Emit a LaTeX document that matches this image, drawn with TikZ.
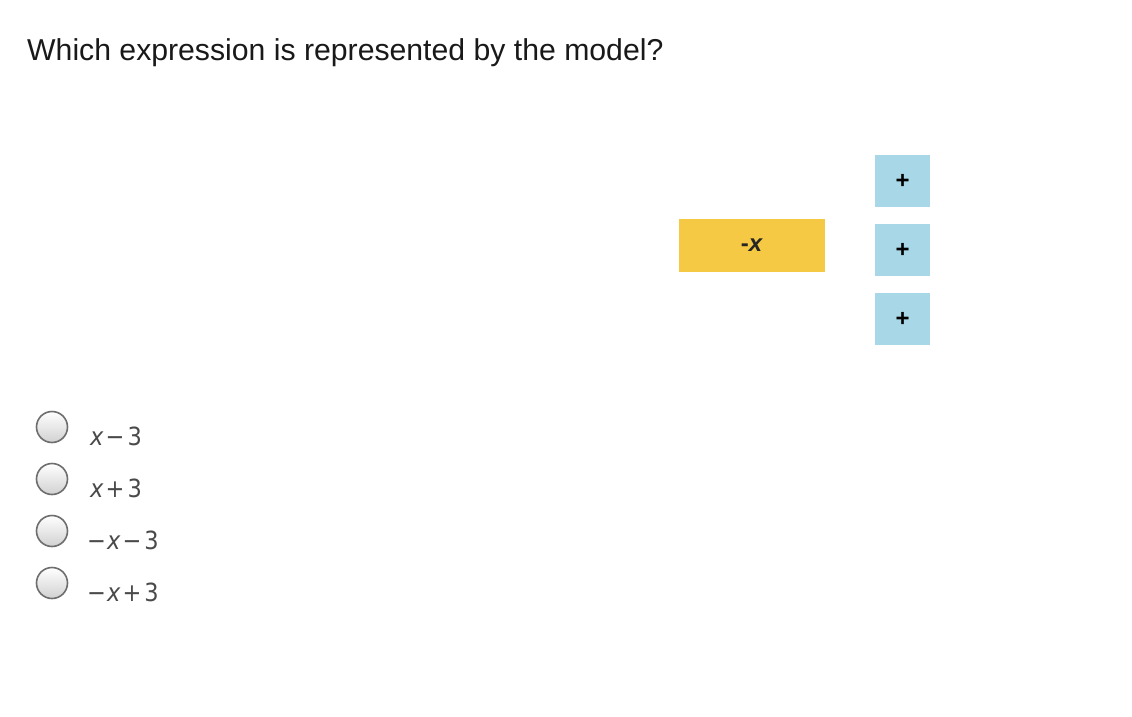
\documentclass[tikz,border=0pt]{standalone}
\usepackage{fontspec}
\setmainfont{Liberation Sans}
\newfontfamily\optfont{DejaVu Sans Condensed}
\definecolor{tileyellow}{HTML}{F5C943}
\definecolor{tileblue}{HTML}{A8D8E8}
\definecolor{radioline}{HTML}{6E6E6E}
\definecolor{opttext}{HTML}{4A4A4A}
\begin{document}
\begin{tikzpicture}[x=1pt,y=-1pt,
  xtile/.style={fill=tileyellow,draw=none,minimum width=146pt,minimum height=53pt,inner sep=0pt,text=black!85,font=\fontsize{24}{26}\selectfont\bfseries},
  unittile/.style={fill=tileblue,draw=none,minimum width=55pt,minimum height=52pt,inner sep=0pt,font=\fontsize{24}{26}\selectfont\bfseries},
  radio/.style={circle,draw=radioline,line width=1.6pt,minimum size=31pt,inner sep=0pt,top color=white,bottom color=black!18},
  opt/.style={anchor=base west,inner sep=0pt,text=opttext,font=\optfont\fontsize{25}{28}\selectfont}]
\useasboundingbox (0,0) rectangle (1132,717);
\fill[white] (0,0) rectangle (1132,717);
\node[anchor=base west,inner sep=0pt,font=\fontsize{30.2}{34}\selectfont,text=black!90] (title) at (27,60) {Which expression is represented by the model?};
\node[xtile] (negx) at (752,245.5) {-\textit{x}};
\node[unittile] (u1) at (902.5,181) {+};
\node[unittile] (u2) at (902.5,250) {+};
\node[unittile] (u3) at (902.5,319) {+};
\node[radio] (r1) at (52,427) {};
\node[radio] (r2) at (52,479) {};
\node[radio] (r3) at (52,531) {};
\node[radio] (r4) at (52,583) {};
\node[opt] (o1) at (90,445) {\textit{x}\kern2pt−\kern3pt3};
\node[opt] (o2) at (90,497) {\textit{x}\kern2pt+\kern3pt3};
\node[opt] (o3) at (87,549) {−\kern1pt\textit{x}\kern2pt−\kern3pt3};
\node[opt] (o4) at (87,601) {−\kern1pt\textit{x}\kern2pt+\kern3pt3};
\end{tikzpicture}
\end{document}
